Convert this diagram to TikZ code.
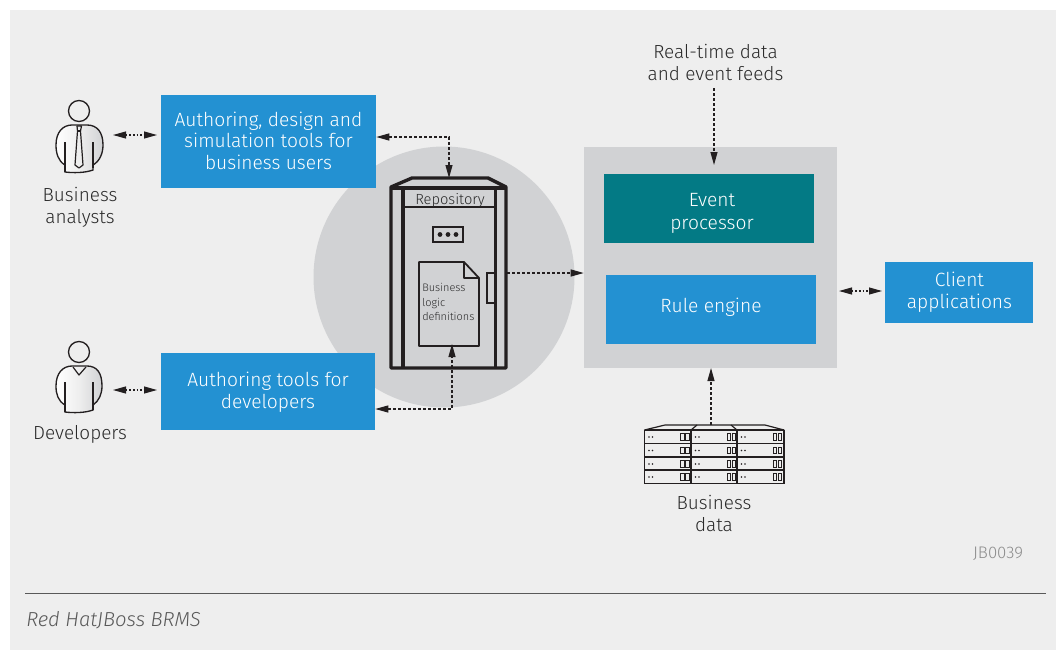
\documentclass[tikz,border=0pt]{standalone}
\usepackage{fontspec}
\setmainfont{Fira Sans Light}[ItalicFont={Fira Sans Light Italic}]
\usetikzlibrary{arrows.meta}
\newlength{\px}\setlength{\px}{0.75pt}
\definecolor{panel}{HTML}{EEEEEE}
\definecolor{midgrey}{HTML}{D1D2D4}
\definecolor{bluebox}{HTML}{2391D2}
\definecolor{tealbox}{HTML}{037A85}
\definecolor{ink}{HTML}{231F20}
\definecolor{labeltext}{HTML}{2A2A2A}
\tikzset{
  x=0.75pt,y=-0.75pt,
  tip/.tip={Triangle[length=9.75pt,width=5.25pt]},
  box/.style={inner sep=0pt,align=center,text=white,font=\fontsize{14.4pt}{16.2pt}\selectfont},
  bluefill/.style={box,fill=bluebox},
  tealfill/.style={box,fill=tealbox},
  lbl/.style={inner sep=0pt,align=center,text=labeltext,font=\fontsize{14.2pt}{16.5pt}\selectfont},
  flow/.style={draw=ink,line width=0.8pt,dash pattern=on 1.95pt off 1.8pt,tip-tip},
  flowone/.style={draw=ink,line width=0.8pt,dash pattern=on 1.95pt off 1.8pt,-tip},
  shortflow/.style={draw=ink,line width=0.8pt,dash pattern=on 1.2pt off 1.5pt,tip-tip},
  body/.style={draw=ink,line width=1pt,left color=white,right color=midgrey,middle color=panel},
  heavy/.style={draw=ink,line width=2.55pt,line join=round},
  thinline/.style={draw=ink,line width=1.1pt},
  rack/.style={draw=ink,line width=0.9pt},
}
\begin{document}
\begin{tikzpicture}
\useasboundingbox (0,0) rectangle (1057,650);
\fill[white] (0,0) rectangle (1057,650);
\fill[panel] (10,10) rectangle (1056,650);

% big circle and engine container
\node[circle,fill=midgrey,minimum size=261\px,inner sep=0pt] (hub) at (444,277) {};
\node[fill=midgrey,minimum width=253\px,minimum height=221\px,inner sep=0pt] (engine) at (710.5,257.5) {};

% boxes
\node[bluefill,minimum width=215\px,minimum height=93\px] (authbiz) at (268.5,141.5) {};
\node[box] (authbiztext) at (268.5,140.5) {Authoring, design and\\simulation tools for\\business users};
\node[bluefill,minimum width=214\px,minimum height=77\px] (authdev) at (268,391.5) {};
\node[box] (authdevtext) at (268,392) {Authoring tools for\\developers};
\node[tealfill,minimum width=210\px,minimum height=69\px] (event) at (709,208.5) {};
\node[box,font=\fontsize{14.4pt}{17.3pt}\selectfont] (eventtext) at (712,213) {Event\\processor};
\node[bluefill,minimum width=210\px,minimum height=69\px] (rule) at (711,309.5) {};
\node[box] (ruletext) at (711,307) {Rule engine};
\node[bluefill,minimum width=148\px,minimum height=61\px] (client) at (959,292.5) {};
\node[box] (clienttext) at (959.5,292) {Client\\applications};

% repository
\node[minimum width=115\px,minimum height=180\px,inner sep=0pt] (repo) at (448.5,278) {};
\draw[heavy] (391,368) -- (391,187) -- (412,178) -- (488,178) -- (506,187) -- (506,368) -- cycle;
\draw[heavy] (391,188) -- (506,188);
\draw[heavy] (403,188) -- (403,368);
\draw[heavy] (495.5,188) -- (495.5,368);
\draw[thinline] (403,207) -- (495.5,207);
\node[inner sep=0pt,text=labeltext,font=\fontsize{11pt}{12pt}\selectfont] (repolabel) at (450,200.5) {Repository};
\node[draw=ink,line width=1.2pt,minimum width=30\px,minimum height=15\px,inner sep=0pt] (keypad) at (448,234.5) {};
\foreach \dx in {440,448,456} \fill[ink] (\dx,234.5) circle[radius=2.4];
\draw[draw=ink,line width=0.85pt] (487,273) rectangle (495,303);

% document
\node[minimum width=60\px,minimum height=84\px,inner sep=0pt] (doc) at (449,304) {};
\draw[draw=ink,line width=1.35pt,line join=round] (419,262) -- (464,262) -- (479,278) -- (479,346) -- (419,346) -- cycle;
\draw[draw=ink,line width=1.35pt,line join=round] (464,262) -- (464,278) -- (479,278);
\node[inner sep=0pt,anchor=west,align=left,text=labeltext,font=\fontsize{8.2pt}{11.1pt}\selectfont] (doctext) at (422,302) {Business\\logic\\definitions};

% people
\begin{scope}
\draw[draw=ink,line width=1pt,fill=panel] (79,111) circle[radius=10.5];
\draw[body] (65,172) -- (65,165) .. controls (58,161) and (56,153) .. (56,145) .. controls (56,132) and (63,125) .. (72,125) -- (87,125) .. controls (97,125) and (103,132) .. (103,145) .. controls (103,153) and (100,161) .. (93,165) -- (93,170) .. controls (85,173) and (73,173) .. (65,172) -- cycle;
\draw[draw=ink,line width=0.9pt] (65,142) -- (65,172) (93,142) -- (93,168);
\draw[draw=ink,line width=0.9pt,fill=panel,line join=round] (77,126) -- (81.5,126) -- (80.5,131) -- (83,165) -- (79,168) -- (75,165) -- (77.5,131) -- cycle;
\draw[draw=ink,line width=0.9pt] (77.5,131) -- (80.5,131);
\coordinate (analyst) at (113,135);
\end{scope}
\begin{scope}
\draw[draw=ink,line width=1pt,fill=panel] (79,352) circle[radius=10.5];
\draw[body] (65,412) -- (65,405) .. controls (58,401) and (56,394) .. (56,386) .. controls (56,373) and (63,366) .. (72,366) -- (87,366) .. controls (97,366) and (102,373) .. (102,386) .. controls (102,394) and (99,401) .. (93,405) -- (93,410) .. controls (85,413) and (73,413) .. (65,412) -- cycle;
\draw[draw=ink,line width=0.9pt] (65,382) -- (65,412) (93,382) -- (93,410);
\draw[draw=ink,line width=0.9pt,line join=round] (73,367) -- (79,375) -- (86,367);
\coordinate (developer) at (113,390);
\end{scope}

% servers
\draw[rack,fill=panel,line join=round] (644.5,430) -- (665,425) -- (765,425) -- (784,430) -- cycle;
\draw[rack] (691,430) -- (697,425) (737,430) -- (731,425);
\foreach \yy in {430,443.5,457,470,483.5} \draw[rack] (644.5,\yy) -- (784,\yy);
\foreach \xx in {644.5,691,737,784} \draw[rack] (\xx,430) -- (\xx,483.5);
\foreach \col in {644.5,691,737} \foreach \row in {430,443.5,457,470} {
  \fill[ink] (\col+4.5,\row+7) circle[radius=0.9] (\col+8,\row+7) circle[radius=0.9];
  \draw[draw=ink,line width=0.5pt] (\col+36,\row+3.5) rectangle (\col+39.5,\row+10) (\col+41,\row+3.5) rectangle (\col+44.5,\row+10);
}
\node[minimum width=140\px,minimum height=58\px,inner sep=0pt] (servers) at (714.5,455) {};

% labels
\node[lbl] (analystlabel) at (80,207) {Business\\analysts};
\node[lbl] (developerlabel) at (80,434) {Developers};
\node[lbl] (feedlabel) at (715.5,62) {Real-time data\\and event feeds};
\node[lbl] (datalabel) at (714,513) {Business\\data};
\node[inner sep=0pt,text=black!45,font=\fontsize{12.6pt}{14pt}\selectfont] (jobid) at (998,554) {JB0039};
\node[inner sep=0pt,anchor=west,text=black!65,font=\fontsize{15.2pt}{16pt}\selectfont\itshape] (caption) at (26,620) {Red HatJBoss BRMS};
\coordinate (ruleL) at (25,593);
\coordinate (ruleR) at (1046,593);
\draw[draw=black!65,line width=0.75pt] (ruleL) -- (ruleR);

% connectors
\coordinate (authbizport) at (authbiz.east |- 0,137);
\coordinate (repotop) at (449,178);
\coordinate (authdevport) at (authdev.east |- 0,409);
\coordinate (docbottom) at (452,344);
\coordinate (repoport) at (507,273);
\coordinate (engineport) at (engine.west |- repoport);
\coordinate (feedport) at (714,88);
\coordinate (eventport) at (714,165);
\coordinate (dataport) at (711,425);
\coordinate (enginebottom) at (711,368);
\coordinate (clientport) at (882,291);
\coordinate (engineright) at (839,291);
\coordinate (authbizin) at (157,135);
\coordinate (authdevin) at (157,390);
\draw[shortflow] (analyst) -- (authbizin);
\draw[shortflow] (developer) -- (authdevin);
\draw[shortflow] (engineright) -- (clientport);
\draw[flow] (authbizport) -| (repotop);
\draw[flow] (authdevport) -| (docbottom);
\draw[flowone] (repoport) -- (engineport);
\draw[flowone] (feedport) -- (eventport);
\draw[flowone] (dataport) -- (enginebottom);
\end{tikzpicture}
\end{document}
